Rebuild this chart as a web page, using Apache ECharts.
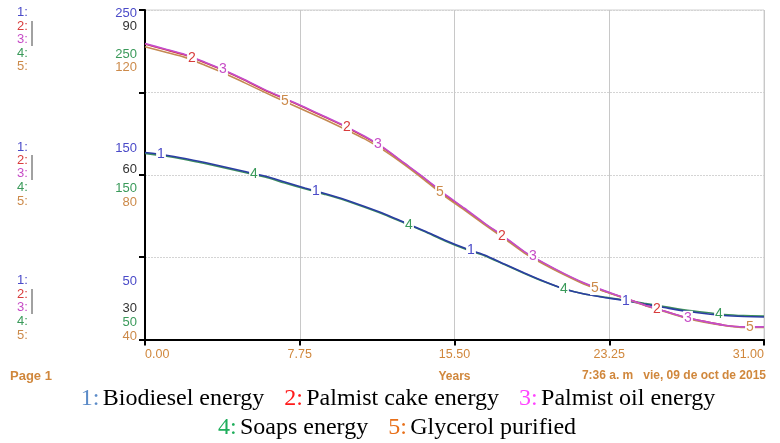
<!DOCTYPE html>
<html><head><meta charset="utf-8">
<script src="https://cdn.jsdelivr.net/npm/echarts@6/dist/echarts.min.js"></script>
<style>html,body{margin:0;padding:0;background:#fff}#c{width:780px;height:443px}</style>
</head><body><div id="c"></div>
<script>
// ---- data ----
const years = [0,1,2,3,4,5,6,7,8,9,10,11,12,13,14,15,16,17,18,19,20,21,22,23,24,25,26,27,28,29,30,31];
const biodieselEnergy = [163.5,162.0,159.9,157.4,154.7,152.0,149.2,145.6,142.0,138.6,135.0,130.7,126.2,121.0,115.9,110.4,105.5,101.3,95.8,90.4,85.2,80.7,77.6,75.5,73.7,71.5,69.4,67.3,65.8,64.6,64.0,63.7];
const palmistCakeEnergy = [83.8,82.8,81.8,80.4,78.9,77.2,75.4,73.8,72.2,70.5,68.8,66.9,64.7,62.0,59.3,56.4,53.8,51.1,48.6,45.9,43.8,41.9,40.2,38.8,37.6,36.3,35.2,34.1,33.3,32.6,32.3,32.3];
const palmistOilEnergy = [83.9,82.9,81.9,80.5,79.0,77.3,75.5,73.9,72.3,70.6,68.9,67.0,64.8,62.1,59.4,56.5,53.9,51.2,48.7,46.0,43.9,42.0,40.3,38.9,37.6,36.3,35.2,34.1,33.3,32.6,32.3,32.3];
const soapsEnergy = [163.0,161.4,159.3,156.8,154.1,151.4,148.6,145.0,141.5,138.1,134.5,130.2,125.7,120.6,115.5,110.0,105.1,100.9,95.5,90.1,85.0,80.6,77.6,75.7,74.0,72.0,70.0,68.0,66.5,65.2,64.5,64.2];
const glycerolPurified = [111.1,109.8,108.5,106.6,104.6,102.3,100.0,97.8,95.6,93.4,91.1,88.7,85.8,82.4,78.7,74.8,71.4,67.9,64.5,61.0,58.2,55.7,53.4,51.7,50.0,48.3,46.8,45.3,44.2,43.4,42.9,42.9];
const seriesNames = ['Biodiesel energy','Palmist cake energy','Palmist oil energy','Soaps energy','Glycerol purified'];
const scaleMin = [50,30,30,50,40];
const scaleMid = [150,60,60,150,80];
const scaleMax = [250,90,90,250,120];
const xTicks = [0,7.75,15.5,23.25,31];

// ---- styles ----
const lineColors = ['#2b3da3','#d23a3a','#c44ccc','#3d8e5e','#c48a52'];
const numColors = ['#4a4ac8','#d83c3c','#c64cc6','#3a9a5a','#cc8a4a'];
const axisOrange = '#d0873c';
const allData = [biodieselEnergy, palmistCakeEnergy, palmistOilEnergy, soapsEnergy, glycerolPurified];

function interp(arr, t){
  const i = Math.min(Math.floor(t), years.length-2);
  const f = t - years[i];
  return arr[i] + (arr[i+1]-arr[i]) * f;
}
// inline number labels: every 31px cycling series 1..5 (plot 619px wide = 31 years)
const labelPts = [[],[],[],[],[]];
for (let k = 0; k < 20; k++) {
  const s = k % 5;
  const t = (16 + 31*k) * 31 / 619;
  labelPts[s].push({coord:[t, interp(allData[s], t)], value:String(s+1)});
}

const yAxes = [{
  type:'value', min:0, max:4, interval:1, position:'left',
  axisLine:{show:true, lineStyle:{color:'#000', width:2}},
  axisTick:{show:true, inside:false, length:6, lineStyle:{color:'#000', width:2}},
  axisLabel:{show:false},
  splitLine:{show:true, lineStyle:{color:'#d4d4d4', type:[2,1], width:1}}
}];
for (let s = 0; s < 5; s++) {
  yAxes.push({type:'value', min:scaleMin[s], max:scaleMax[s], show:false, splitLine:{show:false}});
}

const series = [];
const drawOrder = [3,0,1,4,2];
drawOrder.forEach((s, z) => {
  series.push({
    name: seriesNames[s], type:'line', yAxisIndex: s+1, z: 2+z,
    data: years.map((y,i)=>[y, allData[s][i]]),
    showSymbol:false, symbol:'none', smooth:0.2,
    lineStyle:{color:lineColors[s], width:1.6},
    animation:false,
    markPoint:{
      symbol:'circle', symbolSize:0, animation:false, z:20,
      label:{show:true, position:'inside', formatter: p => p.data.value,
        color:numColors[s], fontSize:14, fontFamily:'Liberation Sans, Arial',
        backgroundColor:'#fff', padding:[0,1]},
      data: labelPts[s]
    }
  });
});

// left label blocks
const graphics = [];
const rowsY = [[13,27,40,54,67],[148,161,174,188,202],[281,295,308,322,336]];
const valRows = [
  [[250,0,13],[90,-1,26],[250,3,54],[120,4,67]],
  [[150,0,148],[60,-1,169],[150,3,188],[80,4,202]],
  [[50,0,281],[30,-1,308],[50,3,322],[40,4,336]]
];
rowsY.forEach((ry, b) => {
  ry.forEach((y, s) => {
    graphics.push({type:'text', left:17, top:y-7, style:{text:(s+1)+':', fill:numColors[s], font:'13px "Liberation Sans", Arial'}});
  });
  graphics.push({type:'line', shape:{x1:32, y1:ry[1]-6, x2:32, y2:ry[2]+6}, style:{stroke:'#444', lineWidth:1}});
  valRows[b].forEach(v => {
    graphics.push({type:'text', x:137, y:v[2], style:{text:String(v[0]), fill: v[1] < 0 ? '#333' : numColors[v[1]], font:'13px "Liberation Sans", Arial', textAlign:'right', textVerticalAlign:'middle'}});
  });
});
// footer texts
graphics.push({type:'text', x:10, y:376, style:{text:'Page 1', fill:axisOrange, font:'bold 13px "Liberation Sans", Arial', textVerticalAlign:'middle'}});
graphics.push({type:'text', x:766, y:376, style:{text:'7:36 a. m   vie, 09 de oct de 2015', fill:axisOrange, font:'bold 12px "Liberation Sans", Arial', textAlign:'right', textVerticalAlign:'middle'}});
// legend
const legColors = ['#5b8bc8','#ff1a1a','#ff44ff','#1fae5c','#e8701a'];
const legFont = '24px "Liberation Serif", "Times New Roman"';
function legItem(i){ return '{n'+i+'|'+(i+1)+':} {t|'+seriesNames[i]+'}'; }
const rich = {t:{fill:'#000', font:legFont}, g:{width:20, font:legFont}};
for (let i=0;i<5;i++) rich['n'+i] = {fill:legColors[i], font:legFont};
graphics.push({type:'text', x:398, y:399, style:{rich:rich, text:legItem(0)+'{g| }'+legItem(1)+'{g| }'+legItem(2), textAlign:'center', textVerticalAlign:'middle'}});
graphics.push({type:'text', x:397, y:428, style:{rich:rich, text:legItem(3)+'{g| }'+legItem(4), textAlign:'center', textVerticalAlign:'middle'}});

const chart = echarts.init(document.getElementById('c'), null, {renderer:'canvas'});
chart.setOption({
  animation:false,
  backgroundColor:'#fff',
  grid:{left:145, right:16, top:10, bottom:103.5, show:true, borderColor:'#d0d0d0', borderWidth:1},
  xAxis:{
    type:'value', min:0, max:31, interval:7.75,
    axisLine:{show:true, onZero:false, lineStyle:{color:'#000', width:2}},
    axisTick:{show:true, length:6, lineStyle:{color:'#000', width:2}},
    axisLabel:{color:axisOrange, fontSize:12.5, fontFamily:'Liberation Sans, Arial', margin:9,
      alignMinLabel:'left', alignMaxLabel:'right',
      formatter: v => v.toFixed(2)},
    splitLine:{show:true, lineStyle:{color:'#c8c8c8', width:1}},
    name:'Years', nameLocation:'middle', nameGap:31,
    nameTextStyle:{color:axisOrange, fontSize:12, fontWeight:'bold', fontFamily:'Liberation Sans, Arial'}
  },
  yAxis: yAxes,
  series: series,
  graphic: graphics
});
</script></body></html>
